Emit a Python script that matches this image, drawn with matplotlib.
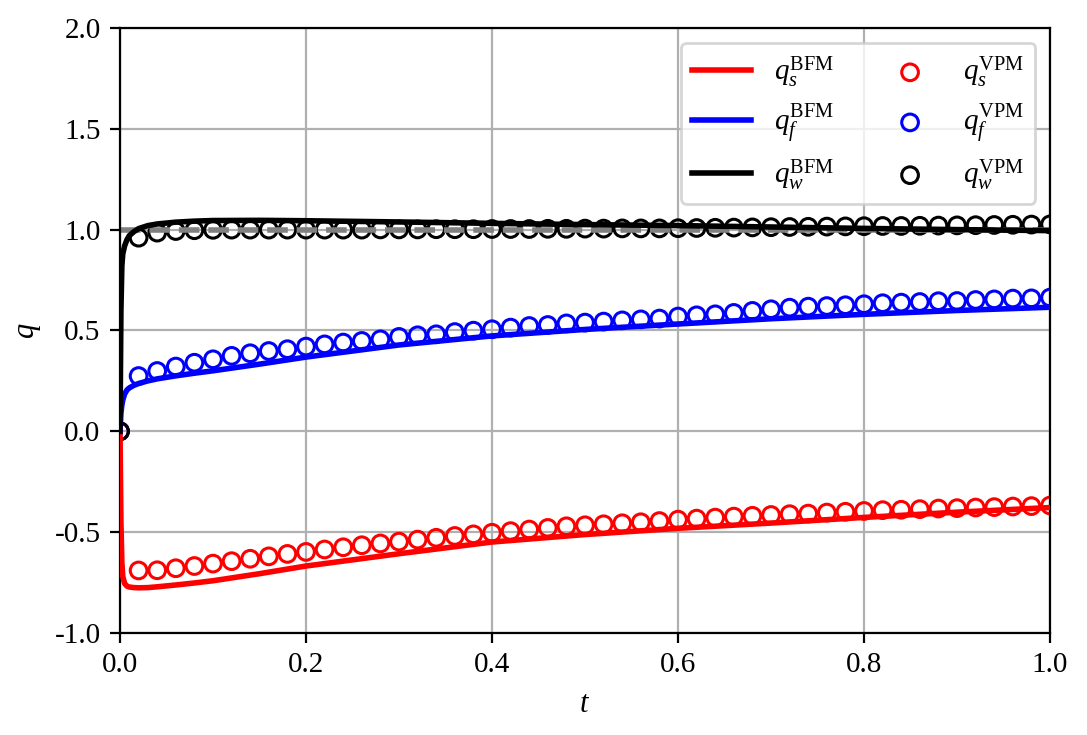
import numpy as np
import matplotlib
matplotlib.use("Agg")
import matplotlib.pyplot as plt

plt.rcParams['font.family'] = ['Liberation Serif', 'DejaVu Serif']
plt.rcParams['mathtext.fontset'] = 'custom'
plt.rcParams['mathtext.rm'] = 'Liberation Serif'
plt.rcParams['mathtext.it'] = 'Liberation Serif:italic'
plt.rcParams['axes.unicode_minus'] = False

# BFM solution curves
t_line = [0, 0.001, 0.002, 0.003, 0.005, 0.0075, 0.01, 0.015, 0.02, 0.03, 0.04,
          0.06, 0.08, 0.1, 0.15, 0.2, 0.3, 0.4, 0.5, 0.6, 0.7, 0.8, 0.9, 1.0]
qs_bfm = [0, -0.45, -0.65, -0.72, -0.755, -0.768, -0.772, -0.775, -0.776, -0.775, -0.771,
          -0.762, -0.752, -0.741, -0.706, -0.668, -0.607, -0.549, -0.512, -0.481,
          -0.455, -0.427, -0.401, -0.378]
qf_bfm = [0, 0.09, 0.13, 0.155, 0.185, 0.205, 0.215, 0.228, 0.237, 0.25, 0.26,
          0.275, 0.288, 0.30, 0.333, 0.368, 0.428, 0.473, 0.505, 0.532, 0.558,
          0.58, 0.599, 0.615]
qw_bfm = [0, 0.6, 0.82, 0.88, 0.92, 0.95, 0.97, 0.99, 1.005, 1.02, 1.028,
          1.037, 1.042, 1.045, 1.046, 1.044, 1.038, 1.031, 1.025, 1.02, 1.013,
          1.006, 1.0, 0.995]

# VPM samples, t = 0, 0.02, ..., 1.0
t_pts = np.linspace(0, 1, 51)
qs_vpm = [0, -0.690, -0.689, -0.679, -0.668, -0.656, -0.644, -0.632, -0.620, -0.608,
          -0.598, -0.586, -0.575, -0.565, -0.556, -0.547, -0.537, -0.528, -0.519,
          -0.511, -0.503, -0.495, -0.487, -0.479, -0.471, -0.466, -0.461, -0.456,
          -0.451, -0.445, -0.438, -0.433, -0.428, -0.423, -0.419, -0.415, -0.411,
          -0.408, -0.403, -0.399, -0.395, -0.391, -0.389, -0.386, -0.383, -0.381,
          -0.378, -0.376, -0.373, -0.371, -0.368]
qf_vpm = [0, 0.274, 0.299, 0.321, 0.340, 0.357, 0.374, 0.387, 0.398, 0.407,
          0.420, 0.431, 0.440, 0.448, 0.456, 0.468, 0.476, 0.481, 0.492, 0.499,
          0.506, 0.514, 0.522, 0.527, 0.535, 0.539, 0.544, 0.550, 0.555, 0.559,
          0.569, 0.575, 0.580, 0.587, 0.597, 0.605, 0.613, 0.618, 0.621, 0.625,
          0.630, 0.635, 0.638, 0.641, 0.645, 0.646, 0.651, 0.654, 0.658, 0.659, 0.663]
qw_vpm = [0, 0.960, 0.985, 0.993, 0.997, 0.999, 1.0, 1.0, 1.0, 1.0,
          1.0, 1.0, 1.0, 1.0, 1.001, 1.001, 1.001, 1.002, 1.002, 1.002,
          1.003, 1.003, 1.003, 1.004, 1.004, 1.005, 1.005, 1.006, 1.006, 1.006,
          1.007, 1.008, 1.009, 1.010, 1.011, 1.012, 1.013, 1.014, 1.015, 1.016,
          1.017, 1.018, 1.018, 1.019, 1.020, 1.021, 1.022, 1.023, 1.024, 1.025, 1.026]

fig = plt.figure(figsize=(5.435, 3.675), dpi=200)
ax = fig.add_axes([0.1104, 0.1388, 0.8556, 0.8232])

ax.plot(t_line, qs_bfm, color='red', lw=2, label=r'$q_s^{\mathrm{BFM}}$', zorder=3)
ax.plot(t_line, qf_bfm, color='blue', lw=2, label=r'$q_f^{\mathrm{BFM}}$', zorder=3)
ax.plot(t_line, qw_bfm, color='black', lw=2, label=r'$q_w^{\mathrm{BFM}}$', zorder=3)
ax.scatter(t_pts, qs_vpm, s=36, facecolors='none', edgecolors='red', lw=1.1,
           label=r'$q_s^{\mathrm{VPM}}$', zorder=2)
ax.scatter(t_pts, qf_vpm, s=36, facecolors='none', edgecolors='blue', lw=1.1,
           label=r'$q_f^{\mathrm{VPM}}$', zorder=2)
ax.scatter(t_pts, qw_vpm, s=36, facecolors='none', edgecolors='black', lw=1.1,
           label=r'$q_w^{\mathrm{VPM}}$', zorder=2)
ax.axhline(1.0, color='gray', ls='--', lw=2, zorder=2.5)

ax.set_xlim(0, 1)
ax.set_ylim(-1, 2)
ax.set_xticks(np.arange(0, 1.01, 0.2))
ax.set_yticks(np.arange(-1, 2.01, 0.5))
ax.tick_params(labelsize=10.5)
ax.grid(True, zorder=0)
ax.set_axisbelow(True)
ax.set_xlabel(r'$t$', fontsize=11)
ax.set_ylabel(r'$q$', fontsize=11)
ax.legend(ncol=2, loc='upper right', fontsize=10.5, labelspacing=0.42,
          columnspacing=1.6, borderaxespad=0.5)

fig.savefig('out.png', dpi=200)
